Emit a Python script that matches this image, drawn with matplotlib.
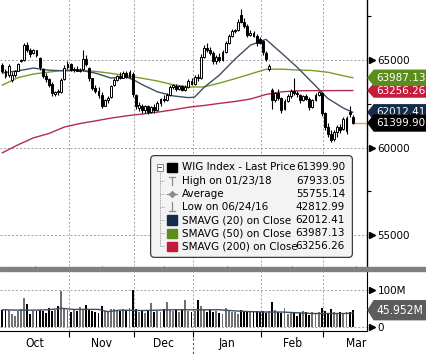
import matplotlib

matplotlib.use("Agg")
import matplotlib.pyplot as plt
from matplotlib import font_manager as fm
from matplotlib.patches import FancyBboxPatch, Polygon, Rectangle
from matplotlib.ticker import FixedLocator
from matplotlib.transforms import blended_transform_factory

# daily candles, Oct 2017 .. mid Mar 2018 (one entry per trading day)
opens = [64700, 64350, 64150, 63850, 64150, 64400, 64950, 65000, 65850, 65600,
         65400, 65550, 65100, 64500, 64100, 63900, 63650, 63050, 63250, 63150,
         63900, 64600, 64750, 64450, 64500, 64400, 64500, 65050, 64550, 63950,
         63400, 63250, 63000, 62400, 62700, 62900, 63550, 63850, 64100, 64000,
         64250, 64050, 64200, 63000, 62250, 62400, 62150, 62350, 62050, 62300,
         62150, 62550, 62750, 62700, 63000, 63450, 63500, 63350, 63500, 63300,
         63450, 63800, 63650, 64050, 63950, 65150, 65700, 65550, 65400, 64950,
         65150, 65000, 65450, 65950, 66350, 66650, 66700, 67600, 67200, 66950,
         66450, 66550, 66400, 66200, 66100, 65400, 64500, 63300, 62700, 63100,
         62850, 62200, 62650, 62950, 63250, 63100, 63000, 62700, 62950, 62800,
         62300, 62700, 63000, 63100, 61950, 61200, 60800, 60500, 60900, 61200,
         61050, 60950, 62050, 61750]
highs = [64850, 64500, 64800, 64300, 64450, 64850, 65050, 66000, 66050, 65700,
         65650, 65600, 65150, 64550, 64250, 64000, 63750, 63250, 63350, 63950,
         64700, 64950, 64850, 64600, 64650, 64550, 65550, 65300, 64600, 64000,
         63550, 63450, 63200, 62800, 62950, 63600, 63950, 64150, 64300, 64350,
         64400, 64450, 64300, 63050, 62600, 62500, 62450, 62450, 62400, 62500,
         62650, 62850, 63000, 63100, 63550, 63650, 63650, 63600, 63600, 63550,
         63900, 63950, 64150, 64200, 65350, 65850, 66000, 65750, 65500, 65300,
         65400, 65550, 66100, 66500, 66750, 66800, 67350, 67933.05, 67400, 67050,
         66700, 66650, 66500, 66300, 66150, 65500, 64750, 63400, 63200, 63350,
         62900, 62750, 63050, 63350, 63950, 63250, 63050, 63000, 63050, 62900,
         62800, 63100, 63250, 63150, 62050, 61400, 61000, 61000, 61300, 61350,
         61750, 61800, 62350, 61850]
lows = [64250, 63950, 64050, 63750, 64050, 64350, 64900, 64950, 65450, 65200,
        65350, 65200, 64450, 63950, 63750, 63450, 62950, 62950, 63000, 63100,
        63850, 64500, 64350, 64300, 64350, 64300, 64400, 64650, 63800, 63300,
        63100, 62850, 62250, 62350, 62550, 62850, 63500, 63800, 63900, 63950,
        63950, 64000, 62900, 62200, 62100, 62000, 62000, 61900, 61950, 62000,
        62100, 62350, 62600, 62650, 62950, 63350, 63250, 63300, 63250, 63250,
        63400, 63550, 63600, 63800, 63900, 65100, 65450, 65300, 64800, 64750,
        64900, 64950, 65400, 65900, 66300, 66550, 66650, 67100, 66850, 66300,
        66350, 66300, 65800, 65900, 65300, 64950, 64400, 62200, 62600, 62700,
        62000, 62150, 62600, 62850, 63000, 62900, 62550, 62650, 62700, 62150,
        62250, 62650, 62950, 61800, 61000, 60600, 60300, 60350, 60600, 60850,
        61000, 60800, 61750, 61350]
closes = [64350, 64100, 64650, 64150, 64350, 64750, 64980, 65850, 65600, 65350,
          65550, 65300, 64600, 64100, 63900, 63600, 63100, 63200, 63150, 63850,
          64550, 64800, 64450, 64500, 64400, 64450, 65050, 64750, 63950, 63400,
          63250, 63000, 62400, 62700, 62850, 63500, 63850, 64100, 64000, 64250,
          64050, 64300, 63050, 62400, 62450, 62150, 62350, 62050, 62300, 62150,
          62550, 62750, 62700, 63000, 63450, 63550, 63350, 63500, 63300, 63450,
          63800, 63650, 64050, 63950, 65150, 65700, 65550, 65400, 64950, 65150,
          65000, 65450, 65950, 66350, 66650, 66700, 67200, 67200, 66950, 66450,
          66550, 66400, 65950, 66000, 65450, 65050, 64650, 62700, 63100, 62850,
          62150, 62650, 62950, 63250, 63100, 63050, 62700, 62950, 62800, 62300,
          62700, 63000, 63150, 62000, 61200, 60800, 60450, 60900, 61200, 61000,
          61650, 61700, 61900, 61399.90]
volumes_m = [47, 48, 46, 37, 30, 45, 49, 78, 62, 37, 45, 44, 47, 45, 38, 52, 45, 47,
             57, 97, 50, 46, 42, 48, 44, 54, 48, 59, 46, 45, 42, 38, 56, 45, 43, 50,
             49, 47, 44, 50, 46, 52, 99, 48, 40, 44, 38, 46, 65, 42, 45, 40, 48, 69,
             46, 44, 50, 42, 48, 72, 45, 40, 44, 72, 56, 47, 42, 46, 40, 45, 38, 35,
             51, 44, 42, 40, 36, 47, 45, 42, 43, 40, 44, 41, 43, 39, 45, 67, 47, 40,
             38, 53, 36, 40, 42, 30, 38, 44, 40, 34, 42, 37, 40, 53, 45, 38, 48, 40,
             36, 42, 38, 40, 41, 45.952]

# moving averages (day index, value)
sma20_days = [0, 5, 10, 15, 20, 25, 30, 35, 40, 43, 45, 50, 55, 60, 62, 65, 70, 75,
              80, 85, 90, 95, 100, 105, 110, 113]
sma20_vals = [64260, 64380, 64540, 64420, 64380, 64420, 64250, 63970, 64030, 63800,
              63600, 63180, 62950, 62850, 62880, 63430, 64140, 65050, 65850, 66180,
              65400, 64600, 63700, 62800, 62250, 62012.41]
sma50_days = [0, 5, 10, 15, 20, 25, 30, 35, 40, 45, 50, 55, 60, 65, 70, 75, 80, 85,
              90, 95, 100, 105, 110, 113]
sma50_vals = [63570, 63990, 64200, 64310, 64420, 64430, 64350, 64240, 64100, 63960,
              63800, 63590, 63460, 63460, 63680, 63930, 64200, 64470, 64480, 64430,
              64400, 64300, 64100, 63987.13]
sma200_days = sma50_days
sma200_vals = [59700, 60150, 60550, 60800, 61170, 61370, 61520, 61680, 61810, 61910,
               62020, 62150, 62300, 62400, 62520, 62630, 62770, 63030, 63180, 63240,
               63250, 63250, 63255, 63256.26]
vol_sma_days = [0, 5, 10, 15, 19, 23, 28, 31, 34, 38, 45, 50, 55, 60, 65, 70, 75, 80,
                85, 90, 95, 100, 105, 110, 113]
vol_sma_vals = [47, 46, 46, 47, 51, 48, 48, 48, 42, 46, 45, 46, 47, 47, 47, 47, 44, 42,
                41, 41, 39, 37, 37, 37, 38]

month_starts = [0, 22, 43, 62, 84, 104]
month_labels = ["Oct", "Nov", "Dec", "Jan", "Feb", "Mar"]
year_break = 62

legend_labels = ["WIG Index - Last Price", "High on 01/23/18", "Average",
                 "Low on 06/24/16", "SMAVG (20) on Close", "SMAVG (50) on Close",
                 "SMAVG (200) on Close"]
legend_values = ["61399.90", "67933.05", "55755.14", "42812.99", "62012.41",
                 "63987.13", "63256.26"]

NAVY_LINE, GREEN_LINE, RED_LINE = "#3d4d66", "#7b9b2b", "#b52a4c"
NAVY_TAG, GREEN_TAG, RED_TAG = "#152b4a", "#5b8d1c", "#c41a3c"
GRID = dict(color="#a0a0a0", lw=0.7, ls=(0, (2, 2)))


# narrow sans if one is around (the original uses a condensed terminal font)
def pick_font():
    fonts = fm.fontManager.ttflist
    for f in fonts:
        if f.name == "Liberation Sans Narrow" and f.style == "normal" and f.weight in (400, "normal"):
            return f.name, "normal"
    for f in fonts:
        if (f.name.startswith("DejaVu Sans") and "Mono" not in f.name and f.style == "normal"
                and f.weight in (400, "normal") and ("Condensed" in f.name or f.stretch == "condensed")):
            return f.name, f.stretch
    return "Liberation Sans", "normal"


fam, stretch = pick_font()
plt.rcParams["font.family"] = [fam, "DejaVu Sans"]
plt.rcParams["font.stretch"] = stretch

W, H = 426, 354
fig = plt.figure(figsize=(W / 100, H / 100), dpi=100)
renderer = fig.canvas.get_renderer()


def fit(sample, target_px):
    t = fig.text(0, 0, sample, fontsize=10)
    w = t.get_window_extent(renderer).width
    t.remove()
    return 10 * target_px / w


FS_LEG = fit("WIG Index - Last Price", 113)
FS_AX = fit("65000", 33)
FS_TAG = fit("61399.90", 49)
FS_MON = fit("Nov", 21)
FS_VTAG = fit("45.952M", 47)


def px_axes(x0, y0, x1, y1, **kw):
    return fig.add_axes([x0 / W, 1 - y1 / H, (x1 - x0) / W, (y1 - y0) / H], **kw)


ax = px_axes(0, 0, 367, 266)
axv = px_axes(0, 272, 367, 331, sharex=ax)
n = len(closes)
days = list(range(n))

# --- price panel
ax.set_xlim(-0.77, 117.6)
ax.set_ylim(53229, 68429)
ax.vlines(days, lows, highs, color="black", lw=0.8, zorder=3)
for d in days:
    up = closes[d] >= opens[d]
    ax.bar(d, closes[d] - opens[d], bottom=opens[d], width=0.62,
           color="white" if up else "black", edgecolor="black", lw=0.7, zorder=4)
ax.plot(sma200_days, sma200_vals, color=RED_LINE, lw=1, zorder=2)
ax.plot(sma50_days, sma50_vals, color=GREEN_LINE, lw=1, zorder=2)
ax.plot(sma20_days, sma20_vals, color=NAVY_LINE, lw=1, zorder=2)
ax.hlines(closes[-1], n - 0.6, 117.6, color="#eba23a", lw=1, zorder=2)

for s in ["left", "top", "bottom"]:
    ax.spines[s].set_visible(False)
ax.spines["right"].set_linewidth(1)
ax.yaxis.tick_right()
ax.set_yticks([55000, 60000, 65000], ["55000", "60000", "65000"])
ax.yaxis.set_minor_locator(FixedLocator([57500, 62500, 67500]))
ax.tick_params(axis="y", which="major", length=0, pad=7.5, labelsize=FS_AX)
ax.tick_params(axis="y", which="minor", length=3, width=0.8)
ax.set_xticks([m - 0.5 for m in month_starts[1:]])
ax.tick_params(axis="x", length=0, labelbottom=False)
ax.grid(True, **GRID)
ax.set_axisbelow(True)

# --- volume panel
vols = [v * 1e6 for v in volumes_m]
vcolors = ["#707070" if c >= o else "black" for o, c in zip(opens, closes)]
axv.bar(days, vols, width=0.62, color=vcolors, zorder=3)
axv.plot(vol_sma_days, [v * 1e6 for v in vol_sma_vals], color=NAVY_LINE, lw=1, zorder=4)
axv.set_ylim(-9.9e6, 148.3e6)
for s in ["left", "top"]:
    axv.spines[s].set_visible(False)
axv.yaxis.tick_right()
axv.set_yticks([0, 1e8], ["0", "100M"])
axv.yaxis.set_minor_locator(FixedLocator([5e7, 1.5e8]))
axv.tick_params(axis="y", which="major", length=0, pad=7.5, labelsize=FS_AX)
axv.tick_params(axis="y", which="minor", length=3, width=0.8)
axv.set_xticks([m - 0.5 for m in month_starts[1:]])
month_ends = month_starts[1:] + [month_starts[-1] + 21]
axv.set_xticks([(a + b) / 2 - 0.5 for a, b in zip(month_starts, month_ends)],
               month_labels, minor=True)
axv.tick_params(axis="x", which="major", length=4, width=0.8, labelbottom=False)
axv.tick_params(axis="x", which="minor", length=0, pad=4.5, labelsize=FS_MON)
axv.grid(True, **GRID)
axv.set_axisbelow(True)
trv = blended_transform_factory(axv.transData, axv.transAxes)
axv.plot([year_break - 0.5] * 2, [-0.12, -0.4], transform=trv, clip_on=False,
         color="#555555", lw=0.8, ls=(0, (2, 2)))

# arrow heads on the value axes
for a, ticks in [(ax, [55000, 60000, 65000]), (axv, [0, 1e8])]:
    tr = blended_transform_factory(a.transAxes, a.transData)
    a.plot([1 + 5 / 367] * len(ticks), ticks, ">", color="black", ms=5,
           transform=tr, clip_on=False, zorder=6)

# gray separator between panels
fig.patches.append(Rectangle((0, (H - 271) / H), 1, 4.5 / H, transform=fig.transFigure,
                             color="#808080"))


def tag(a, value, text, color, half_px, axes_px, zo, fs):
    tr = blended_transform_factory(a.transAxes, a.transData)
    y0, y1 = a.get_ylim()
    dy = half_px * (y1 - y0) / axes_px
    p0, p1, p2 = 1 + 1 / 367, 1 + 7 / 367, 1 + 70 / 367
    a.add_patch(Polygon([(p0, value), (p1, value + dy), (p2, value + dy),
                         (p2, value - dy), (p1, value - dy)], closed=True,
                        transform=tr, color=color, clip_on=False, zorder=zo))
    a.text(1 + 9 / 367, value, text, transform=tr, color="white", fontsize=fs,
           va="center", ha="left", zorder=zo + 0.5)


tag(ax, sma20_vals[-1], legend_values[4], NAVY_TAG, 7.5, 266, 10, FS_TAG)
tag(ax, sma200_vals[-1], legend_values[6], RED_TAG, 6.5, 266, 11, FS_TAG)
tag(ax, sma50_vals[-1], legend_values[5], GREEN_TAG, 7.5, 266, 12, FS_TAG)
tag(ax, closes[-1], legend_values[0], "black", 8, 266, 13, FS_TAG)
tag(axv, vols[-1], "45.952M", "#5c5c5c", 9.5, 59, 10, FS_VTAG)

# --- legend box
lg = px_axes(150, 155, 353, 258)
lg.set_xlim(0, 203)
lg.set_ylim(103, 0)
lg.axis("off")
lg.add_patch(FancyBboxPatch((0.6, 0.6), 201.8, 101.8,
                            boxstyle="round,pad=0,rounding_size=4",
                            fc="#f3f3f3", ec="#3c3c3c", lw=0.9))
rows = [12.3 + 13.2 * i for i in range(len(legend_labels))]
lg.plot([9.7, 9.7], [rows[0] + 4, rows[-1]], color="#8a8a8a", lw=0.6, ls=(0, (1, 1)))
for r in rows[1:]:
    lg.plot([9.7, 15], [r, r], color="#8a8a8a", lw=0.6, ls=(0, (1, 1)))
lg.add_patch(Rectangle((6.7, rows[0] - 3.5), 6, 7, fc="white", ec="#777777", lw=0.6))
lg.plot([8, 11.4], [rows[0]] * 2, color="#555555", lw=0.7)
swatches = {0: "black", 4: NAVY_TAG, 5: GREEN_TAG, 6: RED_TAG}
for i, c in swatches.items():
    lg.add_patch(Rectangle((17.3, rows[i] - 4.6), 9.3, 9.3, color=c))
ic = "#8c8c8c"
lg.plot([18.5, 25], [rows[1] - 4] * 2, color=ic, lw=0.9)
lg.plot([21.7, 21.7], [rows[1] - 4, rows[1] + 4.5], color=ic, lw=0.9)
lg.plot([17, 27], [rows[2]] * 2, color=ic, lw=0.9)
lg.plot([21.7], [rows[2]], "D", color=ic, ms=3)
lg.plot([21.7, 21.7], [rows[3] - 4.5, rows[3] + 4], color=ic, lw=0.9)
lg.plot([18.5, 25], [rows[3] + 4] * 2, color=ic, lw=0.9)
for r, lab, val in zip(rows, legend_labels, legend_values):
    lg.text(31.7, r, lab, fontsize=FS_LEG, va="center", ha="left")
    lg.text(195, r, val, fontsize=FS_LEG, va="center", ha="right")

fig.savefig("out.png", dpi=100)
